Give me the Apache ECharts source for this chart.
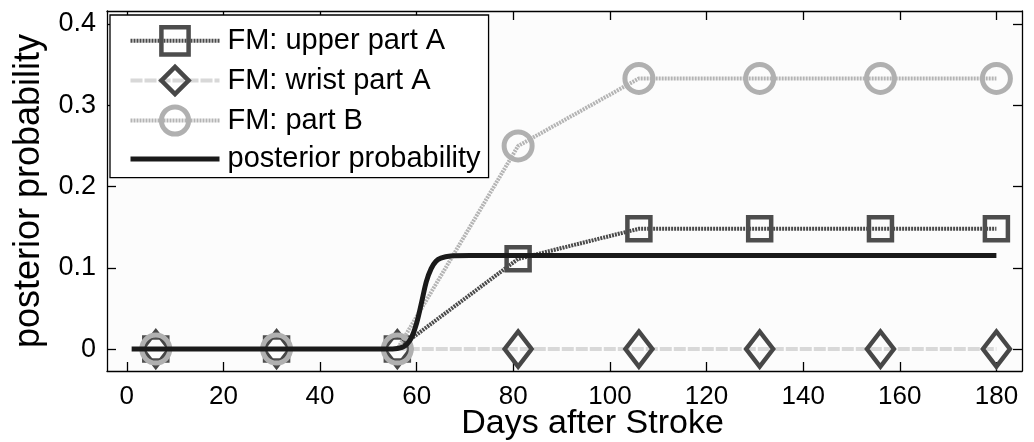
<!DOCTYPE html>
<html>
<head>
<meta charset="utf-8">
<script src="https://cdn.jsdelivr.net/npm/echarts@6/dist/echarts.min.js"></script>
<style>
  html, body { margin: 0; padding: 0; background: #fff; }
  #chart { width: 1034px; height: 442px; }
</style>
</head>
<body>
<div id="chart"></div>
<script>
// Assessment days and the per-test probabilities
const days = [6, 31, 56, 81, 106, 131, 156, 180];
const upperPartA = [0, 0, 0, 0.111, 0.148, 0.148, 0.148, 0.148];
const wristPartA = [0, 0, 0, 0, 0, 0, 0, 0];
const partB = [0, 0, 0, 0.25, 0.333, 0.333, 0.333, 0.333];

// Posterior probability curve (day, value)
const postDays = [1, 55, 57, 58, 59, 60, 61, 62, 63, 64, 65, 67, 71, 180];
const postValues = [0, 0, 0.002, 0.006, 0.015, 0.032, 0.057, 0.083, 0.099, 0.108, 0.112, 0.1145, 0.115, 0.115];

const xTicks = [0, 20, 40, 60, 80, 100, 120, 140, 160, 180];
const yTicks = [0, 0.1, 0.2, 0.3, 0.4];

const FONT = 'Liberation Sans, Arial, sans-serif';
const zip = (xs, ys) => xs.map((x, i) => [x, ys[i]]);

const chart = echarts.init(document.getElementById('chart'), null, { renderer: 'canvas' });

const frameLine = { show: true, onZero: false, lineStyle: { color: '#000', width: 1.3 } };
const innerTick = (vals) => ({ show: true, inside: true, length: 9, customValues: vals, lineStyle: { color: '#000', width: 1.3 } });

chart.setOption({
  backgroundColor: '#fff',
  animation: false,
  grid: {
    left: 107, right: 12, top: 11, bottom: 71,
    outerBoundsMode: 'none', containLabel: false,
    show: true, backgroundColor: '#fcfcfc', borderWidth: 0
  },
  legend: {
    left: 110, top: 15,
    orient: 'vertical',
    backgroundColor: '#fff',
    borderColor: '#000', borderWidth: 1.3,
    padding: [10, 8, 4, 18],
    itemWidth: 89, itemHeight: 34, itemGap: 8,
    lineStyle: { width: 'inherit' },
    itemStyle: { borderWidth: 'inherit' },
    textStyle: { fontFamily: FONT, fontSize: 29, color: '#000', padding: [0, 0, 0, 3] },
    data: [
      'FM: upper part A',
      'FM: wrist part A',
      'FM: part B',
      { name: 'posterior probability', itemStyle: { color: 'rgba(0,0,0,0)', borderWidth: 0 } }
    ]
  },
  xAxis: [{
    type: 'value', position: 'bottom',
    min: -4.1, max: 185.3,
    axisLine: frameLine,
    axisTick: innerTick(xTicks),
    axisLabel: { customValues: xTicks, margin: 13, fontFamily: FONT, fontSize: 26, color: '#000' },
    splitLine: { show: false },
    name: 'Days after Stroke', nameLocation: 'middle', nameGap: 36, nameMoveOverlap: false,
    nameTextStyle: { fontFamily: FONT, fontSize: 34, color: '#000', padding: [0, 0, 0, 56] }
  }, {
    type: 'value', position: 'top',
    min: -4.1, max: 185.3,
    axisLine: frameLine,
    axisTick: innerTick(xTicks),
    axisLabel: { show: false },
    splitLine: { show: false }
  }],
  yAxis: [{
    type: 'value', position: 'left',
    min: -0.027, max: 0.416,
    axisLine: frameLine,
    axisTick: innerTick(yTicks),
    axisLabel: { customValues: yTicks, margin: 11, fontFamily: FONT, fontSize: 27, color: '#000' },
    splitLine: { show: false },
    name: 'posterior probability', nameLocation: 'middle', nameGap: 60,
    nameTextStyle: { fontFamily: FONT, fontSize: 36, color: '#000' }
  }, {
    type: 'value', position: 'right',
    min: -0.027, max: 0.416,
    axisLine: frameLine,
    axisTick: innerTick(yTicks),
    axisLabel: { show: false },
    splitLine: { show: false }
  }],
  series: [{
    name: 'FM: upper part A', type: 'line',
    data: zip(days, upperPartA),
    symbol: 'rect', symbolSize: 23,
    lineStyle: { color: '#4a4a4a', width: 4, type: [2, 1] },
    itemStyle: { color: 'rgba(0,0,0,0)', borderColor: '#4d4d4d', borderWidth: 4.5 },
    z: 2
  }, {
    name: 'FM: wrist part A', type: 'line',
    data: zip(days, wristPartA),
    symbol: 'diamond', symbolSize: [27, 35],
    lineStyle: { color: '#d8d8d8', width: 4, type: [12, 2] },
    itemStyle: { color: 'rgba(0,0,0,0)', borderColor: '#474747', borderWidth: 4.5 },
    z: 3
  }, {
    name: 'FM: part B', type: 'line',
    data: zip(days, partB),
    symbol: 'circle', symbolSize: 28,
    lineStyle: { color: '#b4b4b4', width: 4, type: [2, 1] },
    itemStyle: { color: 'rgba(0,0,0,0)', borderColor: '#b0b0b0', borderWidth: 5 },
    z: 4
  }, {
    name: 'posterior probability', type: 'line',
    data: zip(postDays, postValues),
    symbol: 'none',
    smooth: 0.3,
    lineStyle: { color: '#1a1a1a', width: 5 },
    itemStyle: { color: '#1a1a1a' },
    z: 5
  }]
});
</script>
</body>
</html>
